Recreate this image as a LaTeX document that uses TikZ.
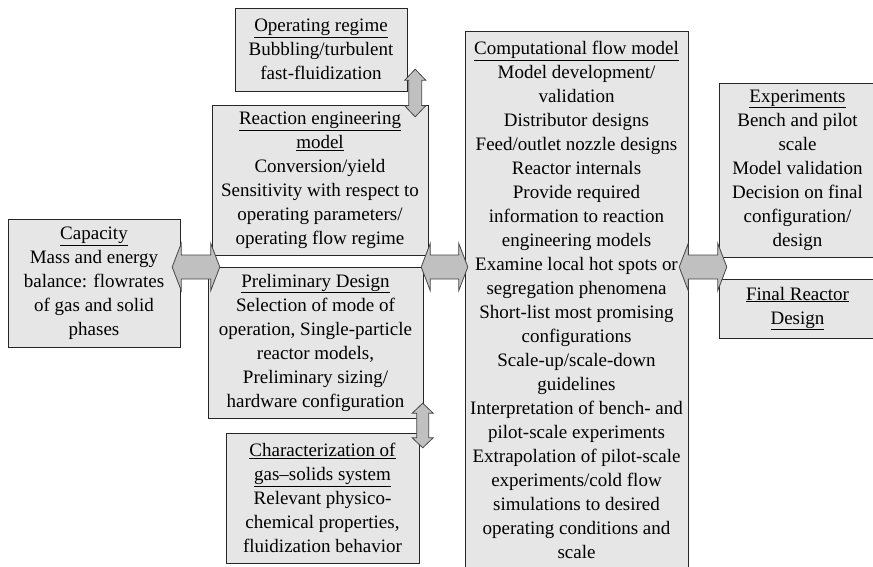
\documentclass[tikz,border=0pt]{standalone}
\usepackage{fontspec}
\setmainfont{Liberation Serif}
\usepackage{tikz}
\usetikzlibrary{calc}
\definecolor{boxgray}{RGB}{230,230,230}
\definecolor{arrowgray}{RGB}{192,192,192}
\definecolor{edgegray}{RGB}{70,70,70}

\newcommand{\dblarrow}[5]{%
  \filldraw[blockarrow] (#1)
    -- ($(#1)!#3!(#2)!#4!90:(#2)$)
    -- ($(#1)!#3!(#2)!#5!90:(#2)$)
    -- ($(#2)!#3!(#1)!#5!-90:(#1)$)
    -- ($(#2)!#3!(#1)!#4!-90:(#1)$)
    -- (#2)
    -- ($(#2)!#3!(#1)!#4!90:(#1)$)
    -- ($(#2)!#3!(#1)!#5!90:(#1)$)
    -- ($(#1)!#3!(#2)!#5!-90:(#2)$)
    -- ($(#1)!#3!(#2)!#4!-90:(#2)$)
    -- cycle;}

\begin{document}
\begin{tikzpicture}[x=1pt,y=-1pt,
          box/.style={draw=black!85,fill=boxgray,inner sep=0pt,align=center,
                      font=\fontsize{19}{24}\selectfont},
          blockarrow/.style={fill=arrowgray,draw=edgegray,line width=0.8pt}]
        \useasboundingbox (0,0) rectangle (873,566);
        \node[box,minimum width=172pt,minimum height=83pt] (oper) at (321,49.5)
          {\underline{Operating regime}\\Bubbling/turbulent\\fast-fluidization};
        \node[box,minimum width=216pt,minimum height=150pt] (react) at (320,180)
          {\underline{Reaction engineering}\\\underline{model}\\Conversion/yield\\
           Sensitivity with respect to\\operating parameters/\\operating flow regime};
        \node[box,minimum width=215pt,minimum height=151pt] (prelim) at (315.5,342.5)
          {\underline{Preliminary Design}\\Selection of mode of\\operation, Single-particle\\
           reactor models,\\Preliminary sizing/\\hardware configuration};
        \node[box,minimum width=193pt,minimum height=130pt] (charac) at (322.5,498)
          {\underline{Characterization of}\\\underline{gas--solids system}\\Relevant physico-\\
           chemical properties,\\fluidization behavior};
        \node[box,minimum width=172pt,minimum height=128pt] (cap) at (94,283)
          {\underline{Capacity}\\Mass and energy\\balance: flowrates\\of gas and solid\\phases};
        \node[box,minimum width=223pt,minimum height=537pt] (comp) at (576.5,300)
          {\underline{Computational flow model}\\Model development/\\validation\\
           Distributor designs\\Feed/outlet nozzle designs\\Reactor internals\\
           Provide required\\information to reaction\\engineering models\\
           Examine local hot spots or\\segregation phenomena\\Short-list most promising\\
           configurations\\Scale-up/scale-down\\guidelines\\Interpretation of bench- and\\
           pilot-scale experiments\\Extrapolation of pilot-scale\\experiments/cold flow\\
           simulations to desired\\operating conditions and\\scale};
        \node[box,minimum width=157pt,minimum height=174pt] (exper) at (797.5,170)
          {\underline{Experiments}\\Bench and pilot\\scale\\Model validation\\
           Decision on final\\configuration/\\design};
        \node[box,minimum width=157pt,minimum height=59pt] (final) at (797.5,308.5)
          {\underline{Final Reactor}\\\underline{Design}};

        \coordinate (row) at (0,267);
        \coordinate (capR) at ($(cap.east |- row)+(-8,0)$);
        \coordinate (prelimL) at ($(prelim.west |- row)+(12,0)$);
        \coordinate (prelimR) at ($(prelim.east |- row)+(-2,0)$);
        \coordinate (compL) at ($(comp.west |- row)+(3,0)$);
        \coordinate (compR) at ($(comp.east |- row)+(-9,0)$);
        \coordinate (experL) at ($(exper.west |- row)+(8,0)$);
        \coordinate (operB) at ($(oper.south east)+(8,-22)$);
        \coordinate (reactT) at ($(react.north east)+(-13,12)$);
        \coordinate (prelimB) at ($(prelim.south east)+(-0.5,-15)$);
        \coordinate (characT) at ($(charac.north east)+(3.5,15)$);

        \dblarrow{capR}{prelimL}{9pt}{23.5pt}{12pt}
        \dblarrow{prelimR}{compL}{9pt}{23.5pt}{12pt}
        \dblarrow{compR}{experL}{9pt}{23.5pt}{12pt}
        \dblarrow{operB}{reactT}{11pt}{10.5pt}{6.5pt}
        \dblarrow{prelimB}{characT}{10pt}{10.5pt}{6pt}
      \end{tikzpicture}
\end{document}
